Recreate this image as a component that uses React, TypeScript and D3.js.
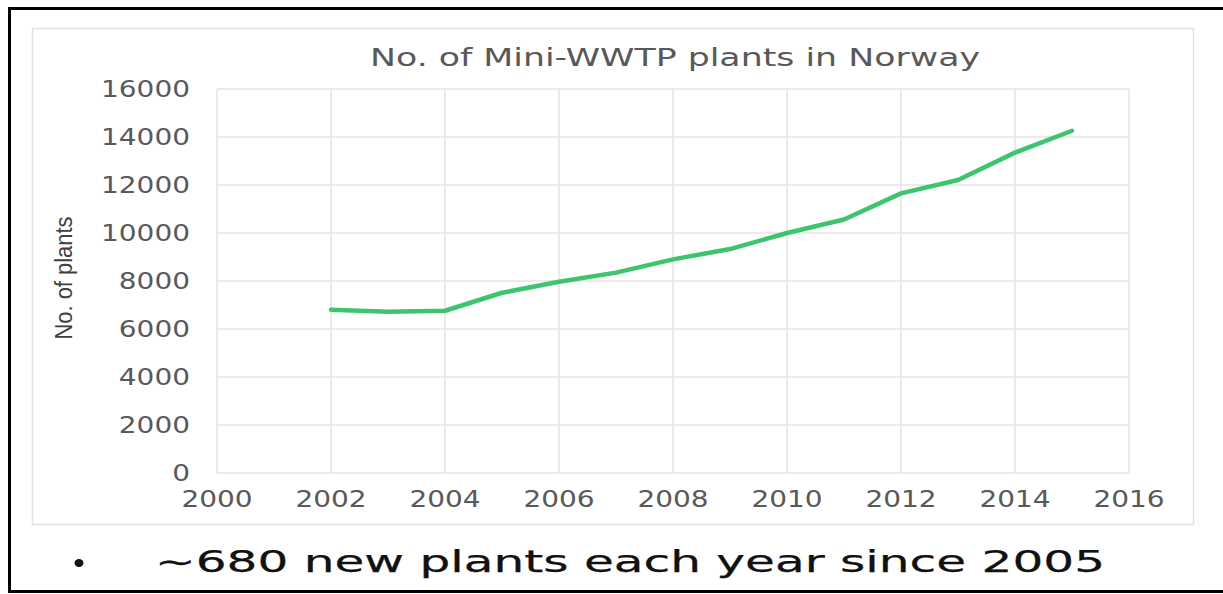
import React from "react";
import * as d3 from "d3";

// Number of mini wastewater treatment plants in Norway, by year
const years = [2002, 2003, 2004, 2005, 2006, 2007, 2008, 2009, 2010, 2011, 2012, 2013, 2014, 2015];
const plants = [6800, 6720, 6760, 7510, 7970, 8350, 8900, 9330, 10000, 10560, 11650, 12210, 13350, 14260];

const xTicks = [2000, 2002, 2004, 2006, 2008, 2010, 2012, 2014, 2016];
const yTicks = [0, 2000, 4000, 6000, 8000, 10000, 12000, 14000, 16000];

const title = "No. of Mini-WWTP plants in Norway";
const yTitle = "No. of plants";
const note = "~680 new plants each year since 2005";

const W = 1223;
const H = 594;
const plot = { left: 217, right: 1129, top: 89, bottom: 473 };

const labelFont = "'DejaVu Sans', Verdana, sans-serif";
const labelColor = "#595959";
const gridColor = "#e4e4e4";

export default function App() {
  const x = d3.scaleLinear().domain([2000, 2016]).range([plot.left, plot.right]);
  const y = d3.scaleLinear().domain([0, 16000]).range([plot.bottom, plot.top]);

  const line = d3
    .line<number>()
    .x((_, i) => x(years[i]))
    .y((d) => y(d));

  const digitW = 17.8;

  return (
    <svg
      width={W}
      height={H}
      style={{ position: "absolute", left: 0, top: 0, background: "#fff" }}
    >
      <rect x={0} y={0} width={W} height={H} fill="#fff" />

      {/* slide frame */}
      <rect x={9.5} y={8.5} width={W + 20} height={583} fill="none" stroke="#000" strokeWidth={3} />

      {/* chart area */}
      <rect x={32.5} y={28.5} width={1161} height={496} fill="#fff" stroke="#e2e2e2" strokeWidth={1.5} />

      {/* gridlines */}
      {yTicks.map((t) => (
        <line key={"gy" + t} x1={plot.left} x2={plot.right} y1={y(t)} y2={y(t)} stroke={gridColor} strokeWidth={1.5} />
      ))}
      {xTicks.map((t) => (
        <line key={"gx" + t} x1={x(t)} x2={x(t)} y1={plot.top} y2={plot.bottom} stroke={gridColor} strokeWidth={1.5} />
      ))}

      {/* y tick labels */}
      {yTicks.map((t) => {
        const s = String(t);
        return (
          <text
            key={"ty" + t}
            x={190}
            y={y(t)}
            dy="0.36em"
            textAnchor="end"
            fontFamily={labelFont}
            fontSize={23}
            fill={labelColor}
            textLength={s.length * digitW}
            lengthAdjust="spacingAndGlyphs"
          >
            {s}
          </text>
        );
      })}

      {/* x tick labels */}
      {xTicks.map((t) => {
        const s = String(t);
        return (
          <text
            key={"tx" + t}
            x={x(t)}
            y={507}
            textAnchor="middle"
            fontFamily={labelFont}
            fontSize={23}
            fill={labelColor}
            textLength={s.length * digitW}
            lengthAdjust="spacingAndGlyphs"
          >
            {s}
          </text>
        );
      })}

      {/* y axis title */}
      <text
        transform={`translate(72, 278) rotate(-90) scale(1, 1.15)`}
        textAnchor="middle"
        fontFamily="'Liberation Sans', Arial, sans-serif"
        fontSize={21}
        fill="#404040"
        textLength={123}
        lengthAdjust="spacingAndGlyphs"
      >
        {yTitle}
      </text>

      {/* chart title */}
      <text
        x={675}
        y={66}
        textAnchor="middle"
        fontFamily={labelFont}
        fontSize={25}
        fill={labelColor}
        textLength={610}
        lengthAdjust="spacingAndGlyphs"
      >
        {title}
      </text>

      {/* series */}
      <path
        d={line(plants) ?? ""}
        fill="none"
        stroke="#3dc46f"
        strokeWidth={4.5}
        strokeLinejoin="round"
        strokeLinecap="round"
      />

      {/* bullet note */}
      <ellipse cx={79} cy={563} rx={4.5} ry={4} fill="#111" />
      <text
        x={155}
        y={572}
        fontFamily={labelFont}
        fontSize={30}
        fill="#111"
        stroke="#111"
        strokeWidth={0.25}
        textLength={950}
        lengthAdjust="spacingAndGlyphs"
      >
        {note}
      </text>
    </svg>
  );
}
